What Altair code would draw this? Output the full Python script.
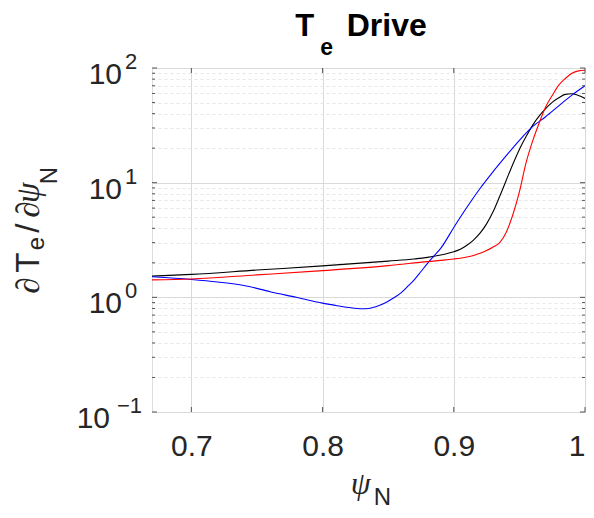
import altair as alt
import pandas as pd

# ---- data ----
psi_black = [0.67, 0.70, 0.75, 0.80, 0.85, 0.87, 0.88, 0.89, 0.895, 0.90, 0.905, 0.91, 0.915, 0.92, 0.925, 0.93,
             0.935, 0.94, 0.945, 0.95, 0.955, 0.96, 0.965, 0.97, 0.975, 0.98, 0.985, 0.99, 0.995, 1.00]
te_black = [1.53, 1.585, 1.73, 1.88, 2.07, 2.16, 2.23, 2.34, 2.41, 2.5, 2.63, 2.85, 3.16, 3.63, 4.37, 5.6,
            7.6, 10.5, 14.5, 19.5, 25.1, 31.6, 38.0, 44.2, 50.1, 55.0, 58.9, 59.6, 57.5, 54.3]

psi_red = [0.67, 0.70, 0.75, 0.80, 0.85, 0.88, 0.89, 0.90, 0.91, 0.915, 0.92, 0.925, 0.93, 0.935, 0.94, 0.945,
           0.95, 0.955, 0.96, 0.965, 0.97, 0.975, 0.98, 0.985, 0.99, 0.995, 1.00]
te_red = [1.42, 1.445, 1.57, 1.71, 1.89, 2.05, 2.10, 2.16, 2.25, 2.32, 2.42, 2.56, 2.75, 3.0, 3.7, 5.25,
          8.3, 14.8, 22.9, 33.0, 45.7, 57.5, 70.8, 81.0, 90.0, 94.4, 95.5]

psi_blue = [0.67, 0.70, 0.72, 0.74, 0.76, 0.78, 0.80, 0.81, 0.82, 0.83, 0.835, 0.84, 0.845, 0.85, 0.855, 0.86,
            0.865, 0.87, 0.875, 0.88, 0.885, 0.89, 0.90, 0.91, 0.92, 0.93, 0.94, 0.95, 0.96, 0.97, 0.98, 0.99, 1.00]
te_blue = [1.51, 1.43, 1.36, 1.27, 1.12, 1.0, 0.89, 0.85, 0.815, 0.795, 0.80, 0.825, 0.865, 0.925, 1.0, 1.1,
           1.25, 1.43, 1.68, 1.98, 2.3, 2.67, 4.07, 6.1, 8.9, 12.5, 17.2, 23.4, 30.8, 37.6, 46.8, 58.0, 70.0]

series_names = ["black", "blue", "red"]
series_colors = ["#000000", "#0000ff", "#ff0000"]

x_ticks = [0.7, 0.8, 0.9, 1.0]
y_major = [0.1, 1, 10, 100]
y_major_exp = ["−1", "0", "1", "2"]
y_minor = [m * d for d in [0.1, 1, 10] for m in range(2, 10)]

# ---- tables ----
rows = []
for name, xs, ys in [("black", psi_black, te_black), ("blue", psi_blue, te_blue), ("red", psi_red, te_red)]:
    for i, (x, y) in enumerate(zip(xs, ys)):
        rows.append({"psi": x, "val": y, "series": name, "order": i})
df = pd.DataFrame(rows)

W, H = 433, 344
TXT = "#262626"
SANS = "Liberation Sans"
SERIF = "Liberation Serif"

x_scale = alt.Scale(domain=[0.67, 1.0], nice=False, zero=False)
y_scale = alt.Scale(type="log", domain=[0.1, 100], nice=False)

major_test = "datum.value == 0.1 || datum.value == 1 || datum.value == 10 || datum.value == 100"

x_axis = alt.Axis(values=x_ticks, format=".1~f", grid=True, gridColor="#d9d9d9", ticks=False,
                  domain=False, labelFontSize=30, labelFont=SANS, labelColor=TXT, labelPadding=19,
                  title=None)
y_axis = alt.Axis(values=y_major + y_minor, grid=True, labels=False, ticks=False, domain=False, title=None,
                  gridColor={"condition": {"test": major_test, "value": "#d9d9d9"}, "value": "#e6e6e6"},
                  gridDash={"condition": {"test": major_test, "value": []}, "value": [3, 3]})

X = alt.X("psi:Q", scale=x_scale, axis=x_axis)
Y = alt.Y("val:Q", scale=y_scale, axis=y_axis)

lines = alt.Chart(df).mark_line(strokeWidth=1.1, interpolate="monotone", clip=True).encode(
    x=X, y=Y,
    color=alt.Color("series:N", scale=alt.Scale(domain=series_names, range=series_colors), legend=None),
    order="order:Q",
)

# inward tick marks (MATLAB style)
xt = pd.DataFrame({"psi": x_ticks})
xtick_b = alt.Chart(xt).mark_rule(color="#555555").encode(x=X, y=alt.value(H), y2=alt.value(H - 5))
xtick_t = alt.Chart(xt).mark_rule(color="#555555").encode(x=X, y=alt.value(0), y2=alt.value(5))
ymaj = pd.DataFrame({"val": y_major})
ymin = pd.DataFrame({"val": y_minor})
ytick_l = alt.Chart(ymaj).mark_rule(color="#555555").encode(y=Y, x=alt.value(0), x2=alt.value(5))
ytick_r = alt.Chart(ymaj).mark_rule(color="#555555").encode(y=Y, x=alt.value(W), x2=alt.value(W - 5))
ymtick_l = alt.Chart(ymin).mark_rule(color="#555555").encode(y=Y, x=alt.value(0), x2=alt.value(3))
ymtick_r = alt.Chart(ymin).mark_rule(color="#555555").encode(y=Y, x=alt.value(W), x2=alt.value(W - 3))

# y tick labels "10^k"
lab = pd.DataFrame({"val": y_major, "exp": y_major_exp})
lab_pos = lab[lab["val"] >= 1]
lab_neg = lab[lab["val"] < 1]


def base_layer(d, xr):
    return alt.Chart(d).mark_text(text="10", align="right", baseline="alphabetic", dy=16, fontSize=30,
                                  font=SANS, color=TXT).encode(y=Y, x=alt.value(xr))


def exp_layer(d, xl):
    return alt.Chart(d).mark_text(align="left", baseline="alphabetic", dy=1, fontSize=22,
                                  font=SANS, color=TXT).encode(y=Y, x=alt.value(xl), text="exp:N")


def txt(s, x, y, size, angle=0, align="center", font=SANS, style="normal", weight="normal"):
    return alt.Chart(alt.Data(values=[{"t": s}])).mark_text(
        align=align, baseline="alphabetic", fontSize=size, font=font, fontStyle=style,
        fontWeight=weight, angle=angle, color=TXT if weight == "normal" else "#000000"
    ).encode(x=alt.value(x), y=alt.value(y), text="t:N")


texts = [
    base_layer(lab_pos, -30), exp_layer(lab_pos, -27),
    base_layer(lab_neg, -42), exp_layer(lab_neg, -35),
    # title
    txt("T", 152.7, -32.0, 31, weight="bold"),
    txt("e", 174.7, -13.5, 23, weight="bold"),
    txt("Drive", 194.7, -32.0, 32, align="left", weight="bold"),
    # x label
    txt("ψ", 208.7, 425.7, 32, font=SERIF, style="italic"),
    txt("N", 221.7, 436.7, 24, align="left"),
    # y label (rotated)
    txt("∂", -113, 217.5, 33, angle=270, font=SERIF, style="italic"),
    txt("T", -113, 194.7, 33, angle=270),
    txt("e", -108, 175.7, 24, angle=270),
    txt("/", -113, 160.2, 33, angle=270),
    txt("∂", -113, 141.7, 33, angle=270, font=SERIF, style="italic"),
    txt("ψ", -113, 124.7, 33, angle=270, font=SERIF, style="italic"),
    txt("N", -95, 107.7, 24, angle=270),
]

chart = alt.layer(
    lines, xtick_b, xtick_t, ytick_l, ytick_r, ymtick_l, ymtick_r, *texts
).properties(
    width=W, height=H,
    autosize=alt.AutoSizeParams(type="none"),
    padding={"left": 144, "top": 60, "right": 1, "bottom": 98},
).configure_view(stroke="#555555", strokeWidth=1).configure(background="white")

chart.save("out.html", embed_options={"renderer": "svg", "actions": False})
